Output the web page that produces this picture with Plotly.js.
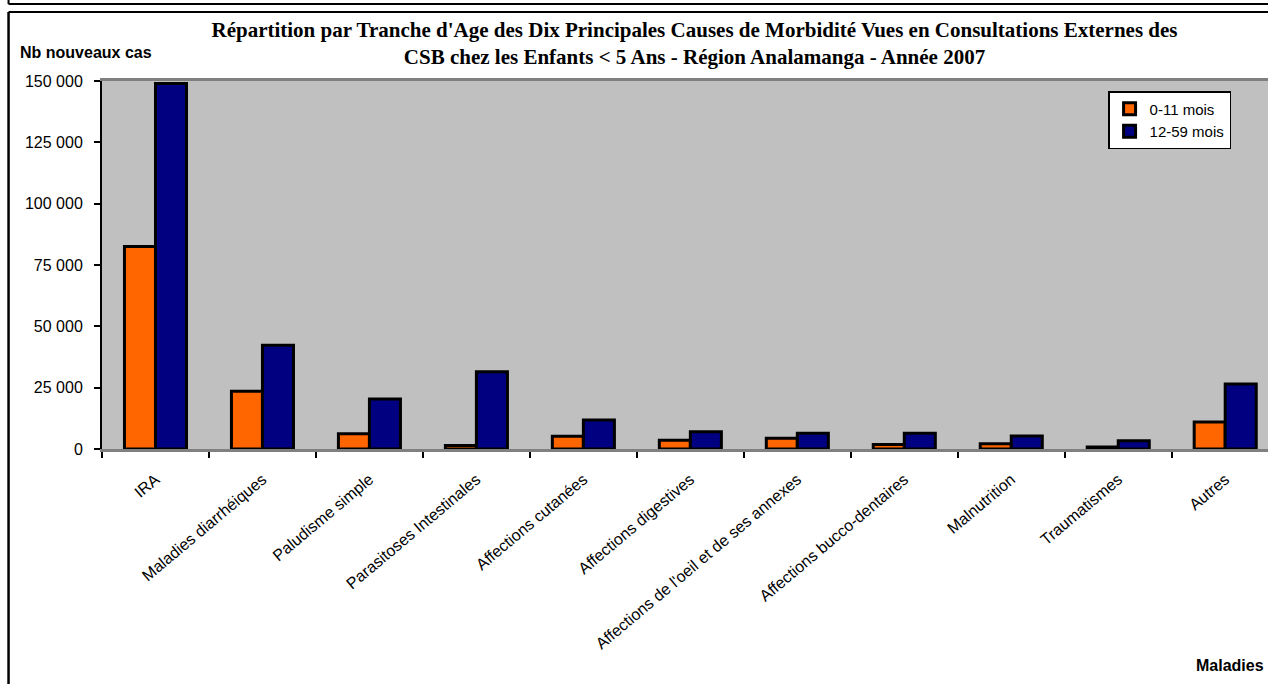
<!DOCTYPE html>
<html>
<head>
<meta charset="utf-8">
<script src="https://cdn.plot.ly/plotly-3.0.1.min.js"></script>
<style>
html,body{margin:0;padding:0;background:#fff;overflow:hidden;}
#chart{width:1268px;height:684px;}
</style>
</head>
<body>
<div id="chart"></div>
<script>
const categories = [
  "IRA",
  "Maladies diarrhéiques",
  "Paludisme simple",
  "Parasitoses Intestinales",
  "Affections cutanées",
  "Affections digestives",
  "Affections de l'oeil et de ses annexes",
  "Affections bucco-dentaires",
  "Malnutrition",
  "Traumatismes",
  "Autres"
];
const seriesNames = ["0-11 mois", "12-59 mois"];
const values0to11 = [82500, 23500, 6200, 1400, 5200, 3600, 4400, 1800, 2100, 800, 11000];
const values12to59 = [149000, 42300, 20400, 31500, 11800, 7000, 6400, 6400, 5300, 3400, 26500];
const yTickVals = [0, 25000, 50000, 75000, 100000, 125000, 150000];
const yTickText = ["0", "25 000", "50 000", "75 000", "100 000", "125 000", "150 000"];

// pixel geometry helpers
const L = 101.5, R = 1268, T = 81, B = 449;
const px = x => (x - L) / (R - L);
const py = y => (B - y) / (B - T);

const sans = "Liberation Sans, Arial, sans-serif";
const serif = "Liberation Serif, Times New Roman, serif";

const traces = [
  {
    type: "bar", name: seriesNames[0], x: categories, y: values0to11,
    marker: {color: "#ff6600", line: {color: "#000000", width: 3}}
  },
  {
    type: "bar", name: seriesNames[1], x: categories, y: values12to59,
    marker: {color: "#000080", line: {color: "#000000", width: 3}}
  }
];

const lineShape = (x0, y0, x1, y1, w) => ({
  type: "line", xref: "paper", yref: "paper",
  x0: px(x0), y0: py(y0), x1: px(x1), y1: py(y1),
  line: {color: "#000000", width: w}, layer: "above"
});

const layout = {
  width: 1268, height: 684,
  margin: {l: L, r: 0, t: T, b: 684 - B, pad: 0},
  paper_bgcolor: "#ffffff",
  plot_bgcolor: "#c0c0c0",
  font: {family: sans, size: 16, color: "#000000"},
  barmode: "group",
  bargap: 0.42,
  bargroupgap: 0,
  showlegend: true,
  title: {
    text: "Répartition par Tranche d'Age des Dix Principales Causes de Morbidité Vues en Consultations Externes des<br>CSB chez les Enfants < 5 Ans - Région Analamanga - Année 2007",
    font: {family: serif, size: 21, color: "#000000", weight: "bold"},
    xref: "container", yref: "container",
    x: 694.5 / 1268, xanchor: "center",
    y: 1 - 36.5 / 684, yanchor: "middle"
  },
  xaxis: {
    type: "category",
    range: [-0.5, 10.4],
    tickson: "boundaries",
    ticks: "outside", ticklen: 6, tickwidth: 2, tickcolor: "#000000",
    ticklabelstandoff: 12,
    showline: true, linecolor: "#808080", linewidth: 3, mirror: true,
    showgrid: false, zeroline: false,
    tickangle: -40,
    tickfont: {family: sans, size: 16, color: "#000000"},
    automargin: false, fixedrange: true
  },
  yaxis: {
    range: [0, 150000],
    tickvals: yTickVals, ticktext: yTickText,
    ticks: "outside", ticklen: 6, tickwidth: 2, tickcolor: "#000000",
    ticklabelstandoff: 8,
    showline: true, linecolor: "#000000", linewidth: 2,
    showgrid: false, zeroline: false,
    tickfont: {family: sans, size: 16, color: "#000000"},
    automargin: false, fixedrange: true
  },
  legend: {
    x: px(1108), y: py(91), xanchor: "left", yanchor: "top",
    bgcolor: "#ffffff", bordercolor: "#000000", borderwidth: 1.5,
    font: {family: sans, size: 15, color: "#000000"},
    itemwidth: 30, traceorder: "normal"
  },
  annotations: [
    {
      text: "<b>Nb nouveaux cas</b>", xref: "paper", yref: "paper",
      x: px(17), y: py(52), xanchor: "left", yanchor: "middle",
      showarrow: false, font: {family: sans, size: 16, color: "#000000"}
    },
    {
      text: "<b>Maladies</b>", xref: "paper", yref: "paper",
      x: px(1266), y: py(665), xanchor: "right", yanchor: "middle",
      showarrow: false, font: {family: sans, size: 16, color: "#000000"}
    }
  ],
  shapes: [
    lineShape(8, -2, 8, 4, 2),
    lineShape(8, 4, 1275, 4, 2),
    lineShape(8, 12, 1275, 12, 2),
    lineShape(8, 12, 8, 700, 2.5)
  ]
};

Plotly.newPlot("chart", traces, layout, {displayModeBar: false, staticPlot: true});
</script>
</body>
</html>
